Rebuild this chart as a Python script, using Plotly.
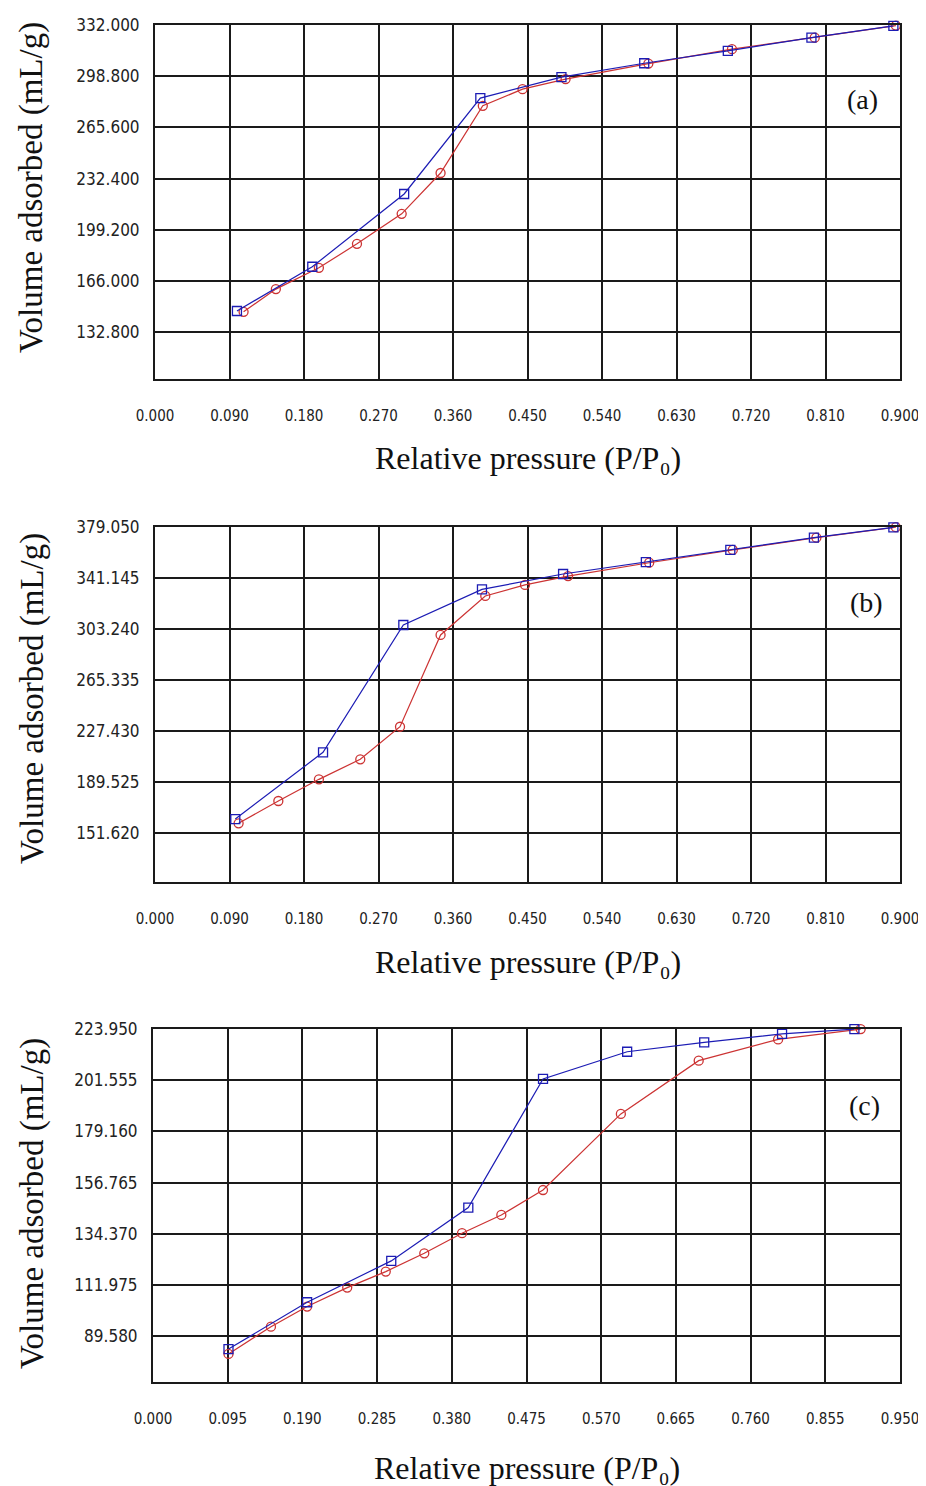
import plotly.graph_objects as go

# ---------------- data ----------------
# Panel (a)
a_ads_x = [0.099, 0.190, 0.301, 0.393, 0.491, 0.591, 0.692, 0.793, 0.892]
a_ads_y = [146.5, 175.2, 222.4, 284.6, 298.2, 307.2, 315.2, 323.8, 331.4]
a_des_x = [0.107, 0.146, 0.198, 0.244, 0.298, 0.345, 0.396, 0.444, 0.496, 0.596, 0.697, 0.797, 0.895]
a_des_y = [146.0, 160.7, 174.5, 190.1, 209.5, 236.0, 279.6, 290.4, 296.9, 307.0, 316.3, 323.8, 331.6]

# Panel (b)
b_ads_x = [0.097, 0.203, 0.300, 0.395, 0.493, 0.593, 0.695, 0.796, 0.892]
b_ads_y = [162.0, 211.6, 306.2, 332.7, 344.1, 353.0, 362.0, 371.1, 378.8]
b_des_x = [0.101, 0.149, 0.198, 0.248, 0.296, 0.345, 0.399, 0.447, 0.499, 0.597, 0.698, 0.799, 0.895]
b_des_y = [158.8, 175.4, 191.5, 206.4, 230.6, 298.8, 327.8, 336.0, 342.6, 352.5, 362.0, 371.1, 378.9]

# Panel (c)
c_ads_x = [0.096, 0.196, 0.303, 0.401, 0.496, 0.603, 0.701, 0.800, 0.892]
c_ads_y = [83.9, 104.4, 122.5, 145.8, 202.1, 214.0, 218.1, 221.8, 223.9]
c_des_x = [0.096, 0.150, 0.196, 0.247, 0.296, 0.345, 0.393, 0.443, 0.496, 0.595, 0.694, 0.795, 0.900]
c_des_y = [81.8, 93.7, 102.5, 110.8, 117.8, 125.8, 134.6, 142.6, 153.5, 186.8, 210.1, 219.4, 223.9]

# tick labels
a_xticks = [0.0, 0.09, 0.18, 0.27, 0.36, 0.45, 0.54, 0.63, 0.72, 0.81, 0.90]
a_yticks = [132.8, 166.0, 199.2, 232.4, 265.6, 298.8, 332.0]
b_xticks = [0.0, 0.09, 0.18, 0.27, 0.36, 0.45, 0.54, 0.63, 0.72, 0.81, 0.90]
b_yticks = [151.62, 189.525, 227.43, 265.335, 303.24, 341.145, 379.05]
c_xticks = [0.0, 0.095, 0.19, 0.285, 0.38, 0.475, 0.57, 0.665, 0.76, 0.855, 0.95]
c_yticks = [89.58, 111.975, 134.37, 156.765, 179.16, 201.555, 223.95]

panel_labels = ["(a)", "(b)", "(c)"]
x_title = "Relative pressure (P/P₀)"
y_title = "Volume adsorbed (mL/g)"

# ---------------- figure ----------------
OFF = 8                      # default page body margin
W, H = 926 - OFF, 1486 - OFF
BLUE = "#1c1cb4"
RED = "#cc3333"
TICKFONT = "Liberation Sans Narrow, DejaVu Sans Condensed, Liberation Sans, sans-serif"
SERIF = "Liberation Serif, Times New Roman, serif"


def fx(px):
    return (px - OFF) / W


def fy(py):
    return 1 - (py - OFF) / H


fig = go.Figure()

panels = [
    dict(ads=(a_ads_x, a_ads_y), des=(a_des_x, a_des_y), xt=a_xticks, yt=a_yticks,
         xr=[0, 0.9], yr=[102.4, 332.0], px=(155, 900), py=(25, 379),
         xtitle_y=458, ytitle_y=188, lab=(862, 100)),
    dict(ads=(b_ads_x, b_ads_y), des=(b_des_x, b_des_y), xt=b_xticks, yt=b_yticks,
         xr=[0, 0.9], yr=[115.2, 379.05], px=(155, 900), py=(527, 882),
         xtitle_y=962, ytitle_y=699, lab=(866, 602)),
    dict(ads=(c_ads_x, c_ads_y), des=(c_des_x, c_des_y), xt=c_xticks, yt=c_yticks,
         xr=[0, 0.95], yr=[69.5, 223.95], px=(153, 900), py=(1029, 1382),
         xtitle_y=1468, ytitle_y=1204, lab=(864, 1105)),
]

layout = dict(
    width=W, height=H, margin=dict(l=0, r=0, t=0, b=0, autoexpand=False),
    paper_bgcolor="white", plot_bgcolor="white", showlegend=False,
)
annotations = []

for i, p in enumerate(panels, start=1):
    xa = "x" if i == 1 else f"x{i}"
    ya = "y" if i == 1 else f"y{i}"
    # desorption (red circles) first, adsorption (blue squares) on top
    fig.add_trace(go.Scatter(
        x=p["des"][0], y=p["des"][1], mode="lines+markers", xaxis=xa, yaxis=ya,
        line=dict(color=RED, width=1.2),
        marker=dict(symbol="circle-open", size=9, color=RED, line=dict(width=1.3)),
        cliponaxis=False))
    fig.add_trace(go.Scatter(
        x=p["ads"][0], y=p["ads"][1], mode="lines+markers", xaxis=xa, yaxis=ya,
        line=dict(color=BLUE, width=1.2),
        marker=dict(symbol="square-open", size=9, color=BLUE, line=dict(width=1.3)),
        cliponaxis=False))

    x0, x1 = p["px"]
    y0, y1 = p["py"]
    xkey = "xaxis" if i == 1 else f"xaxis{i}"
    ykey = "yaxis" if i == 1 else f"yaxis{i}"
    layout[xkey] = dict(
        domain=[fx(x0), fx(x1)], anchor=ya, range=p["xr"], automargin=False,
        tickvals=p["xt"], ticktext=[f"{v:.3f}" for v in p["xt"]],
        showgrid=True, gridcolor="#1a1a1a", gridwidth=2,
        showline=True, linecolor="#1a1a1a", linewidth=2, mirror=True,
        zeroline=False, ticks="", ticklabelstandoff=22,
        tickfont=dict(family=TICKFONT, size=15, color="#222222"),
    )
    layout[ykey] = dict(
        domain=[fy(y1), fy(y0)], anchor=xa, range=p["yr"], automargin=False,
        tickvals=p["yt"], ticktext=[f"{v:.3f}" for v in p["yt"]],
        showgrid=True, gridcolor="#1a1a1a", gridwidth=2,
        showline=True, linecolor="#1a1a1a", linewidth=2, mirror=True,
        zeroline=False, ticks="", ticklabelstandoff=10,
        tickfont=dict(family=TICKFONT, size=17, color="#222222"),
    )
    annotations.append(dict(
        text=x_title, x=fx((x0 + x1) / 2), y=fy(p["xtitle_y"]),
        xref="paper", yref="paper", showarrow=False, xanchor="center", yanchor="middle",
        font=dict(family=SERIF, size=32, color="#111111")))
    annotations.append(dict(
        text=y_title, x=fx(32), y=fy(p["ytitle_y"]), textangle=-90,
        xref="paper", yref="paper", showarrow=False, xanchor="center", yanchor="middle",
        font=dict(family=SERIF, size=33, color="#111111")))
    annotations.append(dict(
        text=panel_labels[i - 1], x=fx(p["lab"][0]), y=fy(p["lab"][1]),
        xref="paper", yref="paper", showarrow=False, xanchor="center", yanchor="middle",
        font=dict(family=SERIF, size=28, color="#111111")))

layout["annotations"] = annotations
fig.update_layout(**layout)
fig.write_html("out.html")
